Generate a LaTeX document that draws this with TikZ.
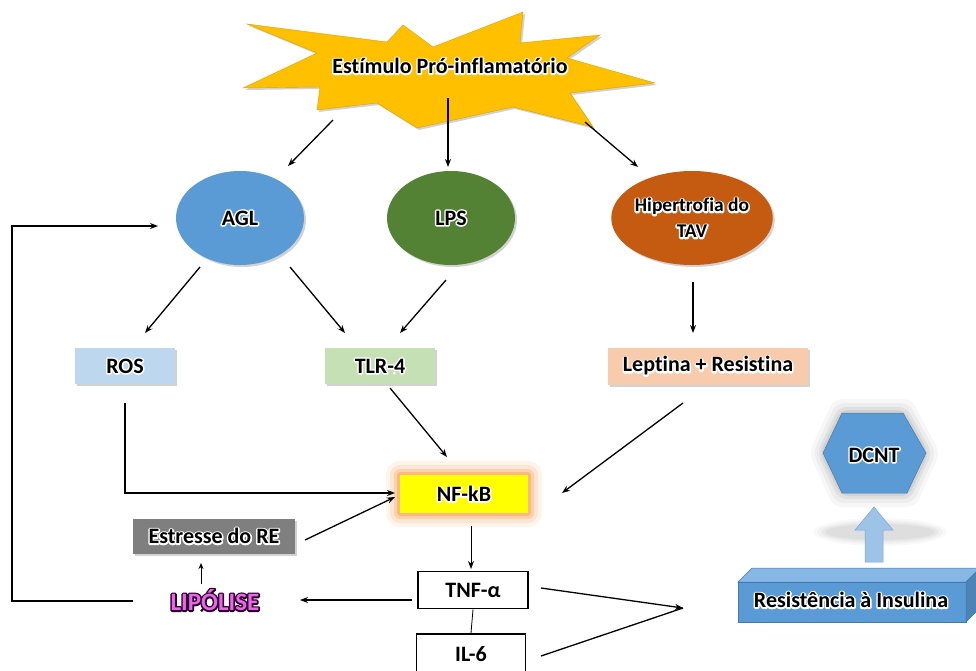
\documentclass[tikz,border=0pt]{standalone}
\usepackage{fontspec}
\setmainfont{Carlito}[Ligatures=CommonOff]
\usetikzlibrary{arrows.meta,shadows,shapes.geometric}
\definecolor{starc}{RGB}{255,192,0}
\definecolor{aglc}{RGB}{91,155,213}
\definecolor{lpsc}{RGB}{84,130,53}
\definecolor{tavc}{RGB}{197,90,17}
\definecolor{rosc}{RGB}{189,215,238}
\definecolor{tlrc}{RGB}{197,224,180}
\definecolor{lepc}{RGB}{248,203,173}
\definecolor{nfc}{RGB}{255,255,0}
\definecolor{nfglow}{RGB}{247,150,70}
\definecolor{grayc}{RGB}{127,127,127}
\definecolor{lipc}{RGB}{236,100,236}
\definecolor{barrc}{RGB}{157,195,230}
\definecolor{barrdk}{RGB}{120,165,215}
\definecolor{rifront}{RGB}{91,155,213}
\definecolor{ritop}{RGB}{135,183,228}
\definecolor{riedge}{RGB}{65,120,185}
% #1 stroke rgb (pdf numbers), #2 stroke width, #3 fill colour, #4 text
\newcommand\hl[4]{\leavevmode\rlap{\special{pdf:literal direct #1 RG #2 w 1 j 1 J 1 Tr}#4\special{pdf:literal direct 0 Tr}}\textcolor{#3}{#4}}
\newcommand\wt[1]{\hl{1 1 1}{3}{black}{#1}}
\begin{document}
\begin{tikzpicture}[x=1pt,y=-1pt,line width=1.3pt,
  arr/.style={draw,-{Stealth[length=8pt,width=6pt]}},
  txt/.style={font=\fontsize{22}{25}\selectfont\bfseries,align=center,inner sep=0pt},
  shad/.style={drop shadow={shadow xshift=2pt,shadow yshift=-2pt,opacity=.35}},
  rbox/.style={txt,shad,minimum height=36pt},
  ell/.style={ellipse,txt,shad,minimum width=128pt,minimum height=94pt},
  wbox/.style={txt,draw,line width=1.8pt,fill=white,minimum width=110pt,minimum height=37pt}]
\useasboundingbox (0,0) rectangle (976,670);
\fill[white] (0,0) rectangle (976,670);
% star
\path[fill=starc,shad,draw=starc!85!black,line width=.4pt]
 (247,24)--(387,42)--(403,25)--(433,47)--(523,12)--(520,43)--(600,35)--(567,58)--(655,83)--(570,93)--(593,127)--(513,107)--(417,128)--(377,103)--(317,110)--(320,87)--(243,88)--(317,53)--cycle;
\node[txt] (star) at (450,66) {\wt{Estímulo Pró-inflamatório}};
% ellipses
\node[ell,fill=aglc] (agl) at (240,218) {\wt{AGL}};
\node[ell,fill=lpsc] (lps) at (451,218) {\wt{LPS}};
\node[ell,fill=tavc,font=\fontsize{19.5}{26}\selectfont\bfseries] (tav) at (692,218) {\wt{Hipertrofia do}\\\wt{TAV}};
% boxes
\node[rbox,fill=rosc,minimum width=100pt] (ros) at (125,366) {\wt{ROS}};
\node[rbox,fill=tlrc,minimum width=110pt] (tlr) at (380,366) {\wt{TLR-4}};
\node[rbox,fill=lepc,minimum width=200pt,minimum height=37pt] (lep) at (708,366) {\wt{Leptina + Resistina}};
% NF-kB glow
\foreach \g/\o in {14/.10,10/.15,6/.25,3/.4}
  \fill[nfglow,opacity=\o,rounded corners=\g pt] (400-\g,475-\g) rectangle (528+\g,513+\g);
\node[txt,fill=nfc,minimum width=128pt,minimum height=38pt] (nf) at (464,494) {\wt{NF-kB}};
\node[rbox,fill=grayc,minimum width=162pt,minimum height=35pt] (er) at (214,536) {\wt{Estresse do RE}};
\node[txt,font=\fontsize{25}{28}\selectfont\bfseries] (lip) at (215,600) {\hl{0.15 0 0.15}{3.2}{lipc}{LIPÓLISE}};
\node[wbox] (tnf) at (473,590) {TNF-α};
\node[wbox,minimum width=109pt,minimum height=40pt] (il6) at (471,654) {IL-6};
% DCNT hexagon with glow
\foreach \g/\o in {14/.03,10/.04,6/.05,3/.06}
  \fill[black,opacity=\o,rounded corners=8pt] (823-\g,453)--(842-\g*.6,413-\g)--(903+\g*.6,413-\g)--(926+\g,453)--(907+\g*.6,493+\g)--(842-\g*.6,493+\g)--cycle;
\fill[aglc,draw=aglc!80!black,line width=.5pt] (823,453)--(842,413)--(903,413)--(926,453)--(907,493)--(842,493)--cycle;
\node[txt] (dcnt) at (874,455) {\wt{DCNT}};
% block arrow with glow
\foreach \g/\o in {12/.025,8/.03,4/.035,0/.04}
  \fill[black,opacity=\o] (880,532) ellipse ({55+\g} and {8+\g*.5});
\fill[barrc,draw=barrdk,line width=.5pt] (865,562)--(865,530)--(855,530)--(874,507)--(893,530)--(883,530)--(883,562)--cycle;
% Resistencia box
\fill[ritop,draw=riedge,line width=.5pt] (738,582)--(752,568)--(980,568)--(966,582)--cycle;
\fill[rifront,draw=riedge,line width=.5pt] (738,582) rectangle (966,622);
\fill[rifront!85!black,draw=riedge,line width=.5pt] (966,582)--(980,568)--(980,608)--(966,622)--cycle;
\node[txt] (ri) at (851,600) {\wt{Resistência à Insulina}};
% coordinates
\coordinate (s1) at (333,120); \coordinate (e1) at (288,166);
\coordinate (s2) at (448,98);  \coordinate (e2) at (448,167);
\coordinate (s3) at (585,122); \coordinate (e3) at (638,167);
\coordinate (s4) at (200,267); \coordinate (e4) at (145,333);
\coordinate (s5) at (290,267); \coordinate (e5) at (345,333);
\coordinate (s6) at (446,280); \coordinate (e6) at (400,333);
\coordinate (s7) at (693,282); \coordinate (e7) at (693,333);
\coordinate (s8) at (125,403); \coordinate (c8) at (125,493); \coordinate (e8) at (395,493);
\coordinate (s9) at (390,388); \coordinate (e9) at (447,457);
\coordinate (s10) at (683,403); \coordinate (e10) at (562,493);
\coordinate (s11) at (305,540); \coordinate (e11) at (395,497);
\coordinate (s12) at (471,526); \coordinate (e12) at (471,569);
\coordinate (s13) at (412,600); \coordinate (e13) at (300,600);
\coordinate (s14) at (201,584); \coordinate (e14) at (201,563);
\coordinate (s15) at (133,601); \coordinate (c15a) at (12,601); \coordinate (c15b) at (12,226); \coordinate (e15) at (158,226);
\coordinate (s16) at (541,588); \coordinate (e16) at (683,608);
\coordinate (s17) at (541,656);
% connectors
\draw[arr] (s1)--(e1);
\draw[arr] (s2)--(e2);
\draw[arr] (s3)--(e3);
\draw[arr] (s4)--(e4);
\draw[arr] (s5)--(e5);
\draw[arr] (s6)--(e6);
\draw[arr] (s7)--(e7);
\draw[arr] (s8)--(c8)--(e8);
\draw[arr] (s9)--(e9);
\draw[arr] (s10)--(e10);
\draw[arr] (s11)--(e11);
\draw[arr,line width=.8pt] (s12)--(e12);
\draw[arr] (s13)--(e13);
\draw[arr,line width=.9pt,-{Stealth[length=6pt,width=5pt]}] (s14)--(e14);
\draw[arr] (s15)--(c15a)--(c15b)--(e15);
\draw[line width=.8pt] (tnf.south)--(il6.north);
\draw[arr] (s16)--(e16);
\draw[line width=1.3pt] (s17)--(e16);
\end{tikzpicture}
\end{document}
